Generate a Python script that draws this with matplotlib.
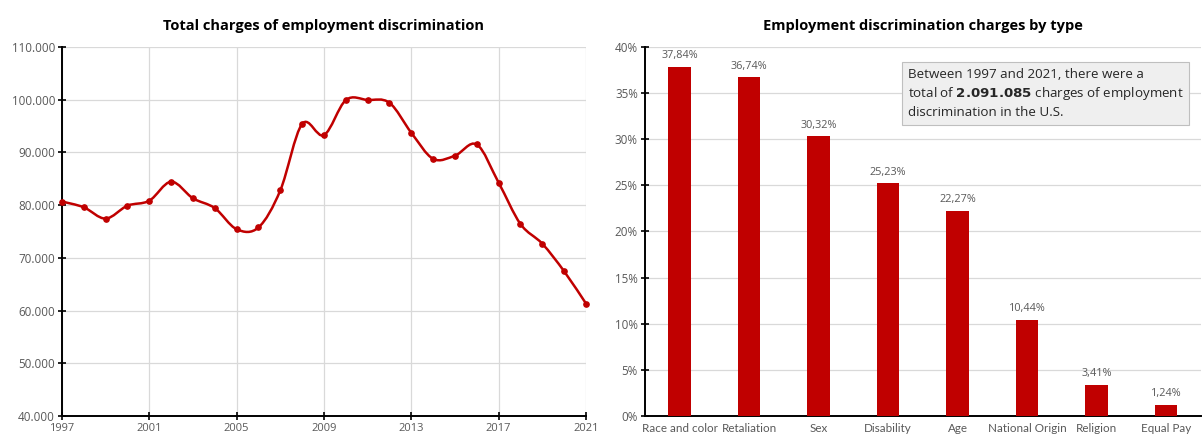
import matplotlib.pyplot as plt
import numpy as np
from matplotlib.path import Path
from matplotlib.patches import PathPatch
from matplotlib.ticker import FuncFormatter

# Yearly totals of charges
years = list(range(1997, 2022))
charges = [80680, 79591, 77444, 79896, 80840, 84442, 81293, 79432, 75428, 75768,
           82792, 95402, 93277, 99922, 99947, 99412, 93727, 88778, 89385, 91503,
           84254, 76418, 72675, 67448, 61331]

# Share of charges by type (%)
types = ["Race and color", "Retaliation", "Sex", "Disability", "Age",
         "National Origin", "Religion", "Equal Pay"]
shares = [37.84, 36.74, 30.32, 25.23, 22.27, 10.44, 3.41, 1.24]

RED = "#c00000"
GRID = "#d9d9d9"
TXT = "#595959"
plt.rcParams["font.family"] = ["Open Sans", "DejaVu Sans"]

fig = plt.figure(figsize=(12.03, 4.37), dpi=100)
ax1 = fig.add_axes([0.0515, 0.0481, 0.4356, 0.8444])
ax2 = fig.add_axes([0.536, 0.0481, 0.4622, 0.8444])


def smooth_path(xs, ys):
    """Bezier path through the points (Excel-style smoothed line)."""
    pts = np.column_stack([xs, ys]).astype(float)
    n = len(pts)
    verts = [pts[0]]
    codes = [Path.MOVETO]
    for i in range(n - 1):
        p0 = pts[max(i - 1, 0)]
        p1 = pts[i]
        p2 = pts[i + 1]
        p3 = pts[min(i + 2, n - 1)]
        c1 = p1 + (p2 - p0) / 6
        c2 = p2 - (p3 - p1) / 6
        verts += [c1, c2, p2]
        codes += [Path.CURVE4] * 3
    return Path(verts, codes)


# --- left: total charges over time
ax1.add_patch(PathPatch(smooth_path(years, charges), facecolor="none",
                        edgecolor=RED, lw=1.8, zorder=3, capstyle="round"))
ax1.plot(years, charges, "o", color=RED, ms=3.8, zorder=4, clip_on=False)
ax1.set_xlim(1997, 2021)
ax1.set_ylim(40000, 110000)
ax1.set_xticks(range(1997, 2022, 4))
ax1.set_yticks(range(40000, 110001, 10000))
ax1.yaxis.set_major_formatter(FuncFormatter(lambda v, p: f"{int(v):,}".replace(",", ".")))
ax1.set_title("Total charges of employment discrimination", fontsize=10.5,
              fontweight="bold", pad=12)

# --- right: charges by type
x = np.arange(len(types))
ax2.bar(x, shares, width=0.32, color=RED, zorder=3)
for xi, v in zip(x, shares):
    ax2.text(xi, v + 0.6, f"{v:.2f}%".replace(".", ","), ha="center", va="bottom",
             fontsize=7.8, color=TXT)
ax2.set_xlim(-0.5, len(types) - 0.5)
ax2.set_ylim(0, 40)
ax2.set_xticks(x)
ax2.set_xticklabels(types, fontsize=6.8, family=["Lato", "DejaVu Sans"])
ax2.set_yticks(range(0, 41, 5))
ax2.yaxis.set_major_formatter(FuncFormatter(lambda v, p: f"{int(v)}%"))
ax2.set_title("Employment discrimination charges by type", fontsize=10.5,
              fontweight="bold", pad=12)
ax2.text(0.473, 0.944, "Between 1997 and 2021, there were a\ntotal of $\\bf{2.091.085}$ charges of employment\ndiscrimination in the U.S.",
         transform=ax2.transAxes, ha="left", va="top", fontsize=9.6, color="#262626",
         linespacing=1.38,
         bbox=dict(boxstyle="square,pad=0.45", facecolor="#efefef", edgecolor="#bfbfbf", lw=0.8))

for ax in (ax1, ax2):
    ax.grid(True, color=GRID, lw=0.9, zorder=0)
    ax.set_axisbelow(True)
    for side in ("top", "right"):
        ax.spines[side].set_visible(False)
    for side in ("left", "bottom"):
        ax.spines[side].set_linewidth(1.4)
        ax.spines[side].set_color("black")
    ax.tick_params(direction="inout", length=6, width=1.2, labelsize=8.4,
                   labelcolor=TXT, pad=2)
ax2.grid(False, axis="x")
ax1.tick_params(axis="x", pad=2, labelsize=8)
ax2.tick_params(axis="x", length=0, pad=5)

fig.savefig("out.png", dpi=100)
